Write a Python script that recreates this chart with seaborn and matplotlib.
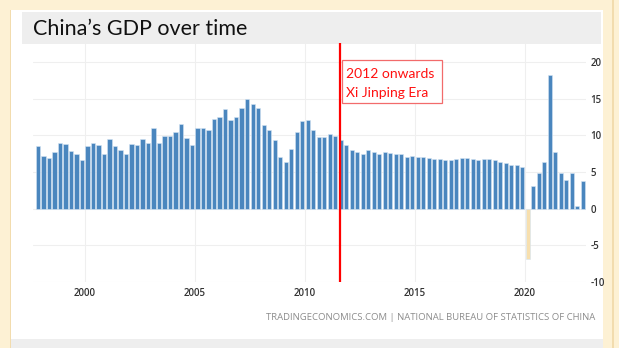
import matplotlib
matplotlib.use("Agg")
import matplotlib.pyplot as plt
from matplotlib.patches import Rectangle
import numpy as np
import pandas as pd
import seaborn as sns

# Quarterly real GDP growth, year over year (%), 1997 Q4 to 2022 Q3
first_quarter = "1997Q4"
last_quarter = "2022Q3"
gdp_growth = [
    8.6, 7.2, 6.9, 7.7, 9.0, 8.8, 7.9, 7.5, 6.7, 8.6,
    9.0, 8.7, 7.4, 9.5, 8.6, 8.0, 7.5, 8.8, 8.7, 9.5,
    9.0, 11.0, 9.0, 9.9, 9.9, 10.5, 11.5, 9.7, 8.7, 11.0,
    11.0, 10.7, 12.3, 12.5, 13.6, 12.1, 12.5, 13.7, 14.9, 14.3,
    13.8, 11.4, 10.8, 9.4, 7.1, 6.4, 8.1, 10.5, 11.9, 12.1,
    10.7, 9.8, 9.8, 10.2, 9.9, 9.4, 8.7, 8.0, 7.7, 7.4,
    8.0, 7.8, 7.5, 7.8, 7.6, 7.4, 7.4, 7.1, 7.2, 7.0,
    7.0, 6.9, 6.8, 6.8, 6.7, 6.7, 6.8, 6.9, 6.9, 6.8,
    6.7, 6.8, 6.8, 6.6, 6.4, 6.2, 6.0, 5.9, 5.7, -6.8,
    3.1, 4.8, 6.4, 18.2, 7.8, 4.8, 3.9, 4.8, 0.3, 3.8,
]
year_ticks = [2000, 2005, 2010, 2015, 2020]
value_ticks = [-10, -5, 0, 5, 10, 15, 20]
era_start = 2011.6
era_label = "2012 onwards\nXi Jinping Era"
title = "China\u2019s GDP over time"
source = "TRADINGECONOMICS.COM | NATIONAL BUREAU OF STATISTICS OF CHINA"

periods = pd.period_range(first_quarter, last_quarter, freq="Q")
df = pd.DataFrame({
    "t": periods.year + (periods.quarter - 0.5) / 4.0,
    "growth": gdp_growth,
})
df["sign"] = np.where(df["growth"] < 0, "neg", "pos")

sns.set_theme(style="white")
plt.rcParams["font.family"] = ["Open Sans", "DejaVu Sans"]

W, H = 619, 348
fig = plt.figure(figsize=(W / 100, H / 100), dpi=100)
fig.patch.set_facecolor("white")


def px_rect(x0, y0, x1, y1, color, z=-5, **kw):
    fig.patches.append(Rectangle((x0 / W, 1 - y1 / H), (x1 - x0) / W, (y1 - y0) / H,
                                 transform=fig.transFigure, facecolor=color,
                                 edgecolor="none", zorder=z, **kw))


# slide frame, white card, header and footer bands
px_rect(0, 0, W, H, "#fdf1d4", z=-10)
px_rect(11, 10, 603, H, "white", z=-9)
px_rect(9.5, 10, 11, H, "#f2dcae", z=-9)
px_rect(612, 0, 613.5, H, "#f2dcae", z=-9)
px_rect(22, 12, 601, 44, "#eeeeee", z=-8)
px_rect(11, 339, 603, H, "#eeeeee", z=-8)

ax = fig.add_axes([33 / W, (H - 282) / H, (585.5 - 33) / W, (282 - 43) / H])
ax.set_facecolor("none")

sns.barplot(data=df, x="t", y="growth", hue="sign", native_scale=True,
            palette={"pos": "#4a86be", "neg": "#f7dfae"}, saturation=1, width=0.8,
            edgecolor="#d4e4f3", linewidth=0.4, legend=False, ax=ax, zorder=3)

ax.set_xlim(1997.64, 2022.75)
ax.set_ylim(-10, 22.6)
ax.set_xticks(year_ticks)
ax.set_xticklabels([str(y) for y in year_ticks])
ax.set_yticks(value_ticks)
ax.set_yticklabels([str(v) for v in value_ticks])
ax.yaxis.tick_right()
ax.tick_params(axis="both", length=0, labelsize=7, labelcolor="#333333")
ax.tick_params(axis="x", pad=4.5)
ax.tick_params(axis="y", pad=3.5)
for lab in ax.get_yticklabels():
    lab.set_horizontalalignment("left")
for lab in ax.get_xticklabels() + ax.get_yticklabels():
    lab.set_fontweight("semibold")
ax.set_xlabel("")
ax.set_ylabel("")
for s in ax.spines.values():
    s.set_visible(False)
for v in value_ticks:
    ax.axhline(v, color="#efefef", lw=0.8, zorder=0)
for y in year_ticks:
    ax.axvline(y, color="#efefef", lw=0.8, zorder=0)

# era marker
ax.axvline(era_start, color="#ff0000", lw=1.6, zorder=5)

px_rect(342, 60, 442, 103, "white", z=6)
fig.patches.append(Rectangle((342 / W, 1 - 103 / H), 100 / W, 43 / H,
                             transform=fig.transFigure, facecolor="none",
                             edgecolor="#f26b6b", lw=0.9, zorder=7))
fig.text(346.5 / W, 1 - 78 / H, era_label.split("\n")[0], fontsize=10,
         family=["Lato", "DejaVu Sans"], color="#ff1010", va="baseline", zorder=8)
fig.text(346.5 / W, 1 - 96.5 / H, era_label.split("\n")[1], fontsize=10,
         family=["Lato", "DejaVu Sans"], color="#ff1010", va="baseline", zorder=8)

fig.text(33 / W, 1 - 35 / H, title, fontsize=15.5, family=["Lato", "DejaVu Sans"],
         color="#111111", va="baseline")
fig.text(595 / W, 1 - 317.7 / H, source, fontsize=6.8, color="#8c8c8c",
         ha="right", va="center")

fig.savefig("out.png", dpi=100)
